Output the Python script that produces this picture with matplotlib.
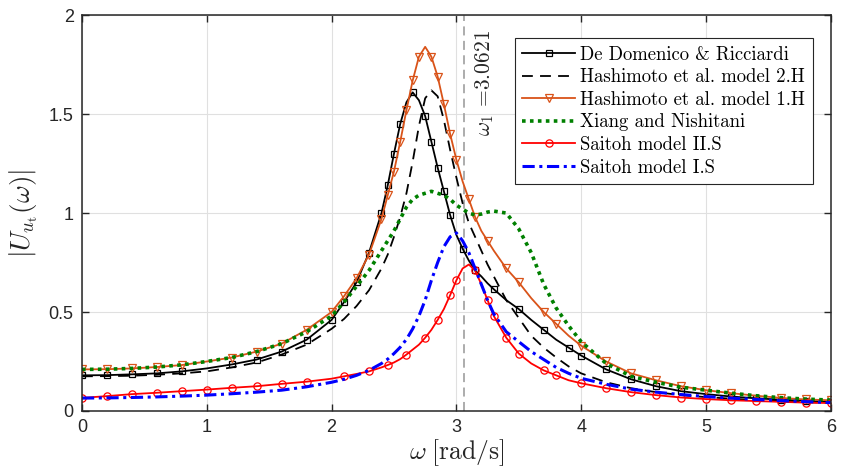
import matplotlib
matplotlib.use("Agg")
import matplotlib.pyplot as plt

# frequency grid [rad/s]
omega = [0, 0.2, 0.4, 0.6, 0.8, 1.0, 1.2, 1.4, 1.6, 1.8, 2.0, 2.1, 2.2, 2.3, 2.4,
         2.45, 2.5, 2.55, 2.6, 2.65, 2.7, 2.75, 2.8, 2.85, 2.9, 2.95, 3.0, 3.05,
         3.1, 3.15, 3.2, 3.25, 3.3, 3.4, 3.5, 3.6, 3.7, 3.8, 3.9, 4.0, 4.2, 4.4,
         4.6, 4.8, 5.0, 5.2, 5.4, 5.6, 5.8, 6.0]

de_domenico = [0.18, 0.181, 0.185, 0.19, 0.20, 0.215, 0.235, 0.26, 0.30, 0.36, 0.46,
               0.55, 0.65, 0.80, 1.00, 1.14, 1.30, 1.45, 1.56, 1.61, 1.57, 1.49, 1.36,
               1.23, 1.11, 0.99, 0.89, 0.82, 0.76, 0.71, 0.68, 0.645, 0.615, 0.56,
               0.515, 0.46, 0.41, 0.36, 0.32, 0.28, 0.21, 0.16, 0.125, 0.10, 0.085,
               0.073, 0.064, 0.057, 0.051, 0.046]

hashimoto_2h = [0.175, 0.176, 0.178, 0.183, 0.19, 0.20, 0.22, 0.245, 0.285, 0.335,
                0.415, 0.465, 0.53, 0.61, 0.72, 0.79, 0.88, 0.98, 1.10, 1.26, 1.44,
                1.58, 1.62, 1.59, 1.47, 1.32, 1.18, 1.05, 0.95, 0.88, 0.81, 0.74,
                0.68, 0.56, 0.47, 0.38, 0.32, 0.27, 0.225, 0.19, 0.145, 0.115, 0.095,
                0.08, 0.07, 0.062, 0.055, 0.05, 0.045, 0.04]

hashimoto_1h = [0.21, 0.211, 0.215, 0.222, 0.232, 0.25, 0.27, 0.30, 0.34, 0.41, 0.50,
                0.58, 0.67, 0.79, 0.97, 1.09, 1.21, 1.36, 1.52, 1.67, 1.79, 1.84,
                1.79, 1.69, 1.55, 1.40, 1.27, 1.16, 1.07, 0.98, 0.91, 0.86, 0.81,
                0.72, 0.65, 0.57, 0.50, 0.44, 0.38, 0.33, 0.25, 0.19, 0.155, 0.125,
                0.105, 0.09, 0.077, 0.066, 0.058, 0.054]

xiang = [0.21, 0.211, 0.215, 0.222, 0.233, 0.25, 0.27, 0.30, 0.34, 0.40, 0.48, 0.55,
         0.63, 0.71, 0.81, 0.86, 0.91, 0.97, 1.03, 1.07, 1.09, 1.10, 1.11, 1.10, 1.09,
         1.07, 1.04, 1.02, 1.00, 0.99, 0.995, 1.005, 1.01, 1.00, 0.92, 0.80, 0.64,
         0.52, 0.43, 0.35, 0.24, 0.175, 0.145, 0.12, 0.105, 0.09, 0.077, 0.067,
         0.06, 0.055]

saitoh_2s = [0.066, 0.075, 0.085, 0.092, 0.10, 0.108, 0.117, 0.125, 0.137, 0.148,
             0.163, 0.175, 0.187, 0.20, 0.22, 0.232, 0.245, 0.262, 0.285, 0.31, 0.335,
             0.37, 0.41, 0.46, 0.515, 0.585, 0.66, 0.72, 0.74, 0.71, 0.64, 0.56,
             0.48, 0.37, 0.29, 0.24, 0.205, 0.18, 0.155, 0.14, 0.115, 0.095, 0.08,
             0.068, 0.06, 0.054, 0.05, 0.046, 0.042, 0.04]

saitoh_1s = [0.065, 0.066, 0.068, 0.071, 0.075, 0.08, 0.087, 0.095, 0.105, 0.122,
             0.145, 0.16, 0.18, 0.205, 0.24, 0.262, 0.29, 0.322, 0.362, 0.415, 0.48,
             0.56, 0.66, 0.75, 0.83, 0.88, 0.90, 0.86, 0.80, 0.72, 0.64, 0.56, 0.49,
             0.40, 0.35, 0.30, 0.26, 0.22, 0.19, 0.165, 0.135, 0.11, 0.095, 0.083,
             0.073, 0.065, 0.058, 0.052, 0.047, 0.042]

labels = ['De Domenico & Ricciardi', 'Hashimoto et al. model 2.H',
          'Hashimoto et al. model 1.H', 'Xiang and Nishitani',
          'Saitoh model II.S', 'Saitoh model I.S']

omega_1 = 3.0621

plt.rcParams['font.family'] = ['Liberation Sans', 'DejaVu Sans']
plt.rcParams['mathtext.fontset'] = 'cm'

fig = plt.figure(figsize=(8.47, 4.74), dpi=100)
ax = fig.add_axes([0.0968, 0.133, 0.884, 0.835])

dark = '#262626'
orange = '#D95319'

ax.axvline(omega_1, color='#a6a6a6', ls=(0, (5, 3)), lw=1.3, zorder=1)

ax.plot(omega, de_domenico, color='k', lw=1.3, marker='s', ms=4.8, mfc='none',
        mew=0.9, markevery=0.033, label=labels[0])
ax.plot(omega, hashimoto_2h, color='k', lw=1.3, ls=(0, (6, 4)), label=labels[1])
ax.plot(omega, hashimoto_1h, color=orange, lw=1.3, marker='v', ms=6, mfc='none',
        mew=0.9, markevery=0.033, label=labels[2])
ax.plot(omega, xiang, color='#008000', lw=2.6, ls=(0, (1, 1.2)), label=labels[3])
ax.plot(omega, saitoh_2s, color='#ff0000', lw=1.3, marker='o', ms=5.2, mfc='none',
        mew=0.9, markevery=0.028, label=labels[4])
ax.plot(omega, saitoh_1s, color='#0000ff', lw=2.2, ls=(0, (4, 1.5, 1, 1.5)),
        label=labels[5])

ax.text(3.14, 1.39, r'$\omega_1$ =3.0621', rotation=90, fontsize=15.5,
        ha='left', va='bottom', color=dark, family='cmr10')

ax.set_xlim(0, 6)
ax.set_ylim(0, 2)
ax.set_xticks([0, 1, 2, 3, 4, 5, 6])
ax.set_yticks([0, 0.5, 1, 1.5, 2])
ax.set_yticklabels(['0', '0.5', '1', '1.5', '2'])
ax.grid(True, color='#e0e0e0', lw=0.8)
ax.set_axisbelow(True)
ax.tick_params(direction='in', top=True, right=True, length=5, width=1,
               labelsize=13, colors=dark, pad=6)
for s in ax.spines.values():
    s.set_color(dark)
    s.set_linewidth(1.1)

ax.set_xlabel(r'$\omega\;[\mathrm{rad/s}]$', fontsize=18.5, color=dark, labelpad=1)
ax.set_ylabel(r'$|U_{u_\mathrm{t}}(\omega)|$', fontsize=19.5, color=dark, labelpad=6)

leg = ax.legend(loc='upper right', bbox_to_anchor=(0.976, 0.942), borderaxespad=0,
                prop={'family': 'cmr10', 'size': 13.5}, fancybox=False,
                edgecolor=dark, framealpha=1, handlelength=2.8, labelspacing=0.25,
                handletextpad=0.3, borderpad=0.4)
leg.get_frame().set_linewidth(0.8)

fig.savefig('out.png', dpi=100)
